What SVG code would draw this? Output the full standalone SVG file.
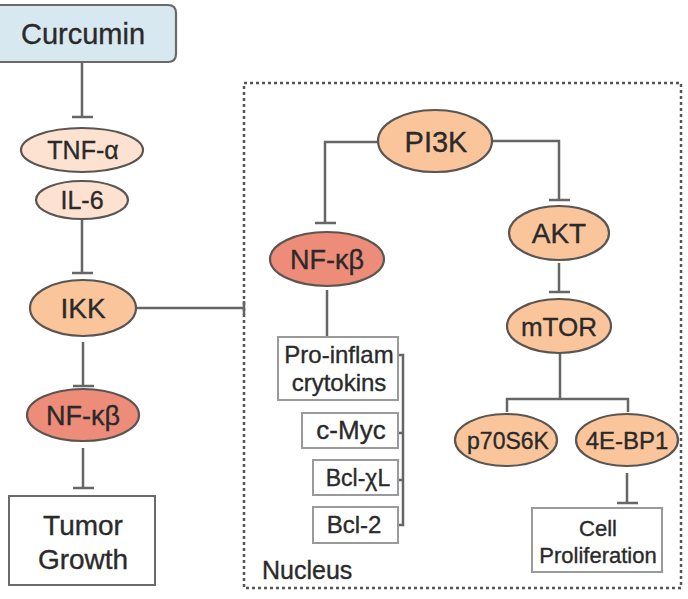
<svg xmlns="http://www.w3.org/2000/svg" width="688" height="599" viewBox="0 0 688 599">
<style>
  text { font-family: "Liberation Sans", Arial, sans-serif; fill: #2a2a2a; stroke: #2a2a2a; stroke-width: 0.35; text-anchor: middle; }
  .ln { stroke: #666; stroke-width: 2.5; fill: none; }
  .el { stroke: #5a5550; stroke-width: 2.2; }
  .pale { fill: #fde2d2; }
  .org { fill: #fbc59c; }
  .red { fill: #ee8c7a; }
  .box { fill: #fff; stroke: #6a6a6a; stroke-width: 2; }
  .lbox { fill: #fff; stroke: #9a9a9a; stroke-width: 2; }
</style>
<rect width="688" height="599" fill="#fff"/>

<g id="nucleus">
  <rect x="244" y="83" width="437" height="505" fill="none" stroke="#555" stroke-width="2.5" stroke-dasharray="3 3"/>
  <text x="262" y="579" font-size="25" style="text-anchor:start">Nucleus</text>
</g>

<g id="connectors">
  <path class="ln" d="M82 62 V117 M72 117 H93"/>
  <path class="ln" d="M82 220 V273 M72 273 H93"/>
  <path class="ln" d="M83 342 V386 M73 386 H94"/>
  <path class="ln" d="M83 448 V488 M73 488 H94"/>
  <path class="ln" d="M137 308 H244 M244 301 V315"/>
  <path class="ln" d="M378 142 H325 V223 M315 223 H336"/>
  <path class="ln" d="M493 141 H559 V200 M549 200 H570"/>
  <path class="ln" d="M559 263 V292 M549 292 H570"/>
  <path class="ln" d="M327 290 V337"/>
  <path class="ln" d="M560 353 V399 M507 412 V399 H628 V412"/>
  <path class="ln" d="M627 473 V503 M617 503 H638"/>
  <path class="ln" d="M399 355 H403 V525 H399 M399 433 H403 M399 480 H403"/>
</g>

<g id="curcumin">
  <path d="M-2 5 H168 Q176 5 176 13 V54 Q176 62 168 62 H-2 Z" fill="#d8e8f1" stroke="#6a6a6a" stroke-width="2.2"/>
  <text x="83" y="44" font-size="29">Curcumin</text>
</g>
<g id="tnf">
  <ellipse class="el pale" cx="82" cy="150" rx="61" ry="22"/>
  <text x="83" y="159" font-size="25">TNF-α</text>
</g>
<g id="il6">
  <ellipse class="el pale" cx="82" cy="200" rx="46" ry="19"/>
  <text x="82" y="209" font-size="25">IL-6</text>
</g>
<g id="ikk">
  <ellipse class="el org" cx="83" cy="308" rx="53" ry="28"/>
  <text x="83" y="318" font-size="28">IKK</text>
</g>
<g id="nfkb1">
  <ellipse class="el red" cx="83" cy="415" rx="56" ry="26"/>
  <text x="83" y="425" font-size="27">NF-κβ</text>
</g>
<g id="tumor">
  <rect class="box" x="9" y="496" width="146" height="89"/>
  <text x="83" y="535" font-size="28">Tumor</text>
  <text x="83" y="569" font-size="28">Growth</text>
</g>
<g id="pi3k">
  <ellipse class="el org" cx="435" cy="141" rx="57" ry="31"/>
  <text x="436" y="152" font-size="29">PI3K</text>
</g>
<g id="nfkb2">
  <ellipse class="el red" cx="327" cy="259" rx="57" ry="27"/>
  <text x="327" y="269" font-size="27">NF-κβ</text>
</g>
<g id="akt">
  <ellipse class="el org" cx="559" cy="233" rx="50" ry="27"/>
  <text x="559" y="243" font-size="28">AKT</text>
</g>
<g id="mtor">
  <ellipse class="el org" cx="559" cy="326" rx="52" ry="27"/>
  <text x="559" y="336" font-size="26">mTOR</text>
</g>
<g id="p70s6k">
  <ellipse class="el org" cx="506" cy="440" rx="51" ry="26"/>
  <text x="508" y="449" font-size="23">p70S6K</text>
</g>
<g id="ebp1">
  <ellipse class="el org" cx="627" cy="440" rx="51" ry="26"/>
  <text x="627" y="449" font-size="24">4E-BP1</text>
</g>
<g id="cellprolif">
  <rect class="lbox" x="532" y="508" width="130" height="64"/>
  <text x="598" y="536" font-size="22">Cell</text>
  <text x="598" y="563" font-size="22">Proliferation</text>
</g>
<g id="proinflam">
  <rect class="lbox" x="278" y="337" width="120" height="63"/>
  <text x="339" y="363" font-size="24">Pro-inflam</text>
  <text x="339" y="391" font-size="24">crytokins</text>
</g>
<g id="cmyc">
  <rect class="lbox" x="302" y="413" width="96" height="35"/>
  <text x="351" y="439" font-size="26">c-Myc</text>
</g>
<g id="bclxl">
  <rect class="lbox" x="313" y="460" width="85" height="35"/>
  <text x="358" y="486" font-size="23">Bcl-χL</text>
</g>
<g id="bcl2">
  <rect class="lbox" x="313" y="507" width="85" height="36"/>
  <text x="354" y="533" font-size="24">Bcl-2</text>
</g>
</svg>
